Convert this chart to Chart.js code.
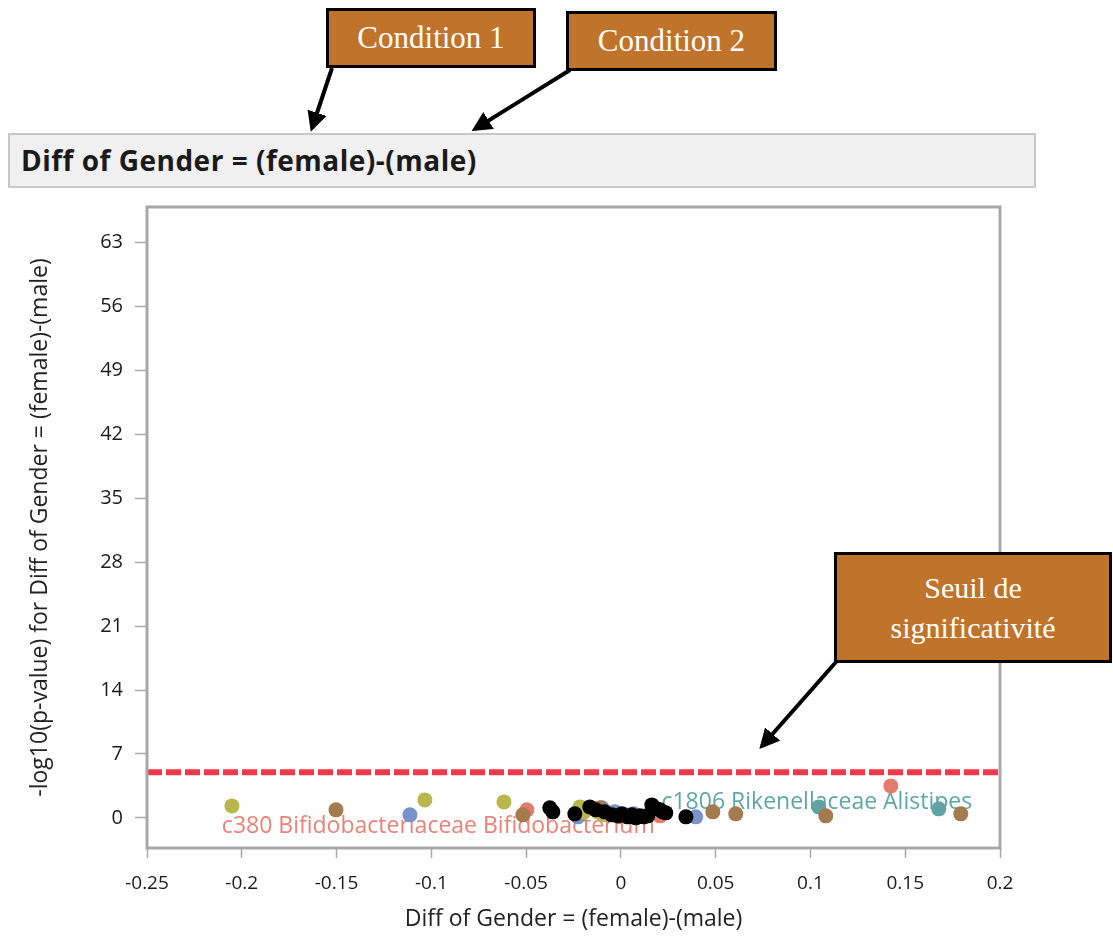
<!DOCTYPE html>
<html>
<head>
<meta charset="utf-8">
<script src="https://cdn.jsdelivr.net/npm/chart.js@4/dist/chart.umd.min.js"></script>
<style>
  body { margin: 0; background: #fff; }
  #wrap { position: relative; width: 1113px; height: 937px; overflow: hidden; }
  #chart { position: absolute; left: 0; top: 0; }
  .titlebar {
    position: absolute; left: 8px; top: 133px; width: 1013px; height: 51px;
    background: #f0f0f0; border: 2px solid #c8c8c8;
    font: bold 28px "Open Sans", sans-serif; color: #1a1a1a; letter-spacing: 0.5px;
    line-height: 51px; padding-left: 11px; box-sizing: content-box;
  }
  .note {
    position: absolute; background: #c0742b; border: 3px solid #000;
    color: #fff; font: 31px "Liberation Serif", serif; text-align: center;
    box-sizing: border-box; display: flex; align-items: center; justify-content: center;
  }
  svg { position: absolute; left: 0; top: 0; }
</style>
</head>
<body>
<div id="wrap">
  <canvas id="chart" width="1113" height="937"></canvas>
  <div class="titlebar">Diff of Gender = (female)-(male)</div>
  <div class="note" style="left:326px;top:8px;width:210px;height:60px;">Condition 1</div>
  <div class="note" style="left:566px;top:11px;width:211px;height:60px;">Condition 2</div>
  <div class="note" style="left:834px;top:552px;width:278px;height:111px;font-size:30px;line-height:40px;">Seuil de<br>significativité</div>
  <svg width="1113" height="937">
    <defs>
      <marker id="ah" markerWidth="5" markerHeight="5" refX="4" refY="2.5" orient="auto" markerUnits="strokeWidth">
        <path d="M0,0 L5,2.5 L0,5 z" fill="#000"/>
      </marker>
    </defs>
    <line x1="332" y1="68" x2="312" y2="128" stroke="#000" stroke-width="4" marker-end="url(#ah)"/>
    <line x1="570" y1="70" x2="475" y2="129" stroke="#000" stroke-width="4" marker-end="url(#ah)"/>
    <line x1="836" y1="662" x2="762" y2="746" stroke="#000" stroke-width="4" marker-end="url(#ah)"/>
  </svg>
</div>
<script>
// tick labels
const xTicks = [-0.25, -0.2, -0.15, -0.1, -0.05, 0, 0.05, 0.1, 0.15, 0.2];
const yTicks = [0, 7, 14, 21, 28, 35, 42, 49, 56, 63];

// significance threshold (-log10 p)
const threshold = 5;

// points per colour group: [diff, -log10(p)]
const blackPts = [
  [-0.0375, 1.1], [-0.0359, 0.66], [-0.0243, 0.44], [-0.0164, 1.2], [-0.0132, 0.88],
  [-0.0085, 0.66], [-0.0048, 0.33], [-0.0016, 0.22], [0.0005, 0.44], [0.0036, 0.11],
  [0.0058, 0.33], [0.0079, 0.0], [0.01, 0.22], [0.0121, 0.11], [0.0142, 0.22],
  [0.0163, 1.42], [0.0179, 1.1], [0.0206, 0.88], [0.0221, 0.66], [0.0237, 0.55],
  [0.0343, 0.11]
];
const olivePts = [
  [-0.2052, 1.31], [-0.1034, 1.97], [-0.0617, 1.75], [-0.0216, 1.2], [-0.0195, 0.66],
  [-0.0121, 0.66], [-0.0095, 0.33]
];
const brownPts = [
  [-0.1503, 0.88], [-0.0517, 0.33], [-0.011, 1.1], [0.0485, 0.66], [0.0606, 0.44],
  [0.1081, 0.22], [0.1793, 0.44]
];
const bluePts = [
  [-0.1113, 0.33], [-0.0227, 0.11], [-0.01, 1.1], [-0.0032, 0.66], [0.0026, 0.33],
  [0.0068, 0.44], [0.0395, 0.11]
];
const salmonPts = [
  [-0.0496, 0.88], [-0.0143, 0.99], [-0.0069, 0.55], [-0.0005, 0.11], [0.0206, 0.22],
  [0.1424, 3.5]
];
const tealPts = [[0.0132, 0.22], [0.1044, 1.2], [0.1677, 0.99]];

// point labels (text starts at x, centred on y)
const pointLabels = [
  { text: 'c380 Bifidobacteriaceae Bifidobacterium', x: -0.2105, y: -0.9, color: '#e8837a' },
  { text: 'c1806 Rikenellaceae Alistipes', x: 0.0214, y: 1.65, color: '#5fa6a8' }
];

const toXY = (arr) => arr.map((p) => ({ x: p[0], y: p[1] }));

const fmt = (v) => String(Math.round(v * 100) / 100);

const labelPlugin = {
  id: 'pointLabels',
  beforeDatasetsDraw(chart) {
    const { ctx, scales } = chart;
    ctx.save();
    ctx.font = '23px "Open Sans", sans-serif';
    ctx.textBaseline = 'middle';
    ctx.textAlign = 'left';
    pointLabels.forEach((l) => {
      ctx.fillStyle = l.color;
      ctx.fillText(l.text, scales.x.getPixelForValue(l.x), scales.y.getPixelForValue(l.y));
    });
    ctx.restore();
  }
};

const framePlugin = {
  id: 'frame',
  afterDraw(chart) {
    const { ctx, chartArea: a } = chart;
    ctx.save();
    ctx.strokeStyle = '#a8a8a8';
    ctx.lineWidth = 3;
    ctx.strokeRect(a.left, a.top, a.right - a.left, a.bottom - a.top);
    ctx.restore();
  }
};

const dot = (data, color) => ({
  type: 'scatter',
  data: toXY(data),
  backgroundColor: color,
  borderColor: color,
  pointRadius: 7.5,
  pointHoverRadius: 7.5,
  borderWidth: 0
});

new Chart(document.getElementById('chart'), {
  type: 'scatter',
  data: {
    datasets: [
      dot(blackPts, '#000000'),
      dot(olivePts, '#b8b64c'),
      dot(brownPts, '#a47b4e'),
      dot(bluePts, '#7892cc'),
      dot(salmonPts, '#e37c6d'),
      dot(tealPts, '#5fa3a2'),
      {
        type: 'line',
        data: [{ x: xTicks[0], y: threshold }, { x: xTicks[xTicks.length - 1], y: threshold }],
        borderColor: '#f2384b',
        borderWidth: 6,
        borderDash: [15, 4],
        pointRadius: 0,
        fill: false
      }
    ]
  },
  options: {
    responsive: false,
    animation: false,
    layout: { padding: { top: 207, right: 113, left: 0, bottom: 0 } },
    plugins: { legend: { display: false }, tooltip: { enabled: false } },
    scales: {
      x: {
        type: 'linear',
        min: -0.25,
        max: 0.2,
        afterFit(s) { s.height = 89; },
        afterBuildTicks(s) { s.ticks = xTicks.map((v) => ({ value: v })); },
        ticks: {
          color: '#1a1a1a',
          font: { family: '"Open Sans", sans-serif', size: 19 },
          padding: 14,
          maxRotation: 0,
          callback: (v) => fmt(v)
        },
        grid: { drawOnChartArea: false, tickLength: 10, color: '#a8a8a8', tickWidth: 1.5 },
        border: { display: false },
        title: {
          display: true,
          text: 'Diff of Gender = (female)-(male)',
          color: '#222',
          font: { family: '"Open Sans", sans-serif', size: 23 },
          padding: { top: 0, bottom: 4 }
        }
      },
      y: {
        type: 'linear',
        min: -3.3,
        max: 66.9,
        afterFit(s) { s.width = 147; },
        afterBuildTicks(s) { s.ticks = yTicks.map((v) => ({ value: v })); },
        ticks: {
          color: '#1a1a1a',
          font: { family: '"Open Sans", sans-serif', size: 20 },
          padding: 12
        },
        grid: { drawOnChartArea: false, tickLength: 12, color: '#a8a8a8', tickWidth: 1.5 },
        border: { display: false },
        title: {
          display: true,
          text: '-log10(p-value) for Diff of Gender = (female)-(male)',
          color: '#222',
          font: { family: '"Open Sans", sans-serif', size: 23 },
          padding: { top: 27, bottom: 0 }
        }
      }
    }
  },
  plugins: [labelPlugin, framePlugin]
});
</script>
</body>
</html>
